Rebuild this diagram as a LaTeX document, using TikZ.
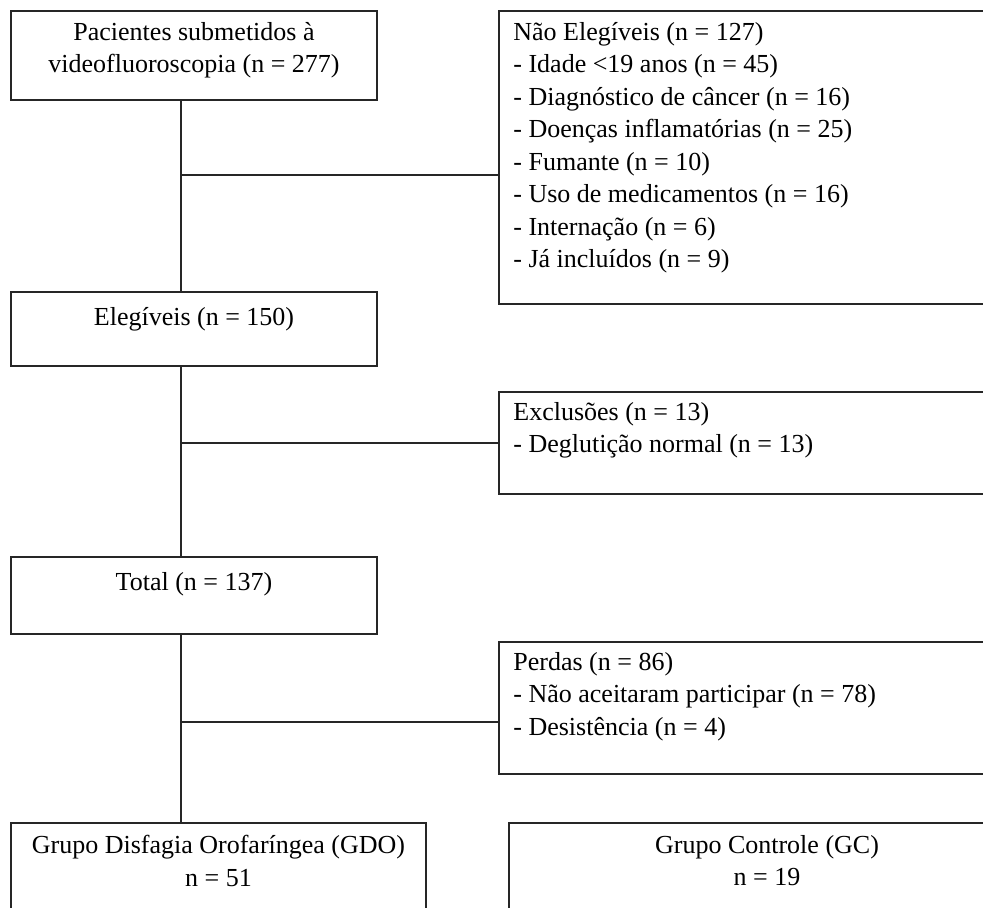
\documentclass[tikz,border=0pt]{standalone}
\usepackage{fontspec}
\setmainfont{Liberation Serif}
\usetikzlibrary{positioning}
\tikzset{
  caixa/.style={draw=black!85, line width=1pt, inner sep=0pt, anchor=north west},
  texto/.style={inner sep=0pt, font=\fontsize{13}{16.25}\selectfont, execute at begin node={\rule{0pt}{11.5pt}}},
  ligacao/.style={draw=black!85, line width=1pt},
}

\begin{document}
\begin{tikzpicture}[x=0.5pt, y=-0.5pt]
\useasboundingbox (0,0) rectangle (983,907);
\clip (0,0) rectangle (983,907);

% caixas do fluxo principal
\node[caixa, minimum width=183pt, minimum height=44.5pt] (pac) at (10,10) {};
\node[caixa, minimum width=183pt, minimum height=37pt] (elig) at (10,291) {};
\node[caixa, minimum width=183pt, minimum height=38.5pt] (total) at (10,556) {};
\node[caixa, minimum width=207.5pt, minimum height=50pt] (gdo) at (10,822) {};
\node[caixa, minimum width=258pt, minimum height=50pt] (gc) at (508,822) {};

% caixas laterais
\node[caixa, minimum width=250pt, minimum height=146.5pt] (nelig) at (498,10) {};
\node[caixa, minimum width=250pt, minimum height=51pt] (excl) at (498,391) {};
\node[caixa, minimum width=250pt, minimum height=66pt] (perd) at (498,641) {};

% textos
\node[texto, align=center, below=6pt of pac.north] (pac-t) {Pacientes submetidos à\\videofluoroscopia (n = 277)};
\node[texto, below=5.5pt of elig.north] (elig-t) {Elegíveis (n = 150)};
\node[texto, below=5.5pt of total.north] (total-t) {Total (n = 137)};
\node[texto, align=center, below=6.5pt of gdo.north] (gdo-t) {Grupo Disfagia Orofaríngea (GDO)\\n = 51};
\node[texto, align=center, below=6.5pt of gc.north] (gc-t) {Grupo Controle (GC)\\n = 19};
\node[texto, align=left, below right=6pt and 7.5pt of nelig.north west] (nelig-t) {Não Elegíveis (n = 127)\\
  - Idade <19 anos (n = 45)\\
  - Diagnóstico de câncer (n = 16)\\
  - Doenças inflamatórias (n = 25)\\
  - Fumante (n = 10)\\
  - Uso de medicamentos (n = 16)\\
  - Internação (n = 6)\\
  - Já incluídos (n = 9)};
\node[texto, align=left, below right=5.5pt and 7.5pt of excl.north west] (excl-t) {Exclusões (n = 13)\\
  - Deglutição normal (n = 13)};
\node[texto, align=left, below right=5.5pt and 7.5pt of perd.north west] (perd-t) {Perdas (n = 86)\\
  - Não aceitaram participar (n = 78)\\
  - Desistência (n = 4)};

% ligacoes
\coordinate (j1) at (181,175);
\coordinate (j2) at (181,443);
\coordinate (j3) at (181,722);
\draw[ligacao] (j1 |- pac.south) -- (j1 |- elig.north);
\draw[ligacao] (j1) -- (j1 -| nelig.west);
\draw[ligacao] (j2 |- elig.south) -- (j2 |- total.north);
\draw[ligacao] (j2) -- (j2 -| excl.west);
\draw[ligacao] (j3 |- total.south) -- (j3 |- gdo.north);
\draw[ligacao] (j3) -- (j3 -| perd.west);
\end{tikzpicture}
\end{document}
